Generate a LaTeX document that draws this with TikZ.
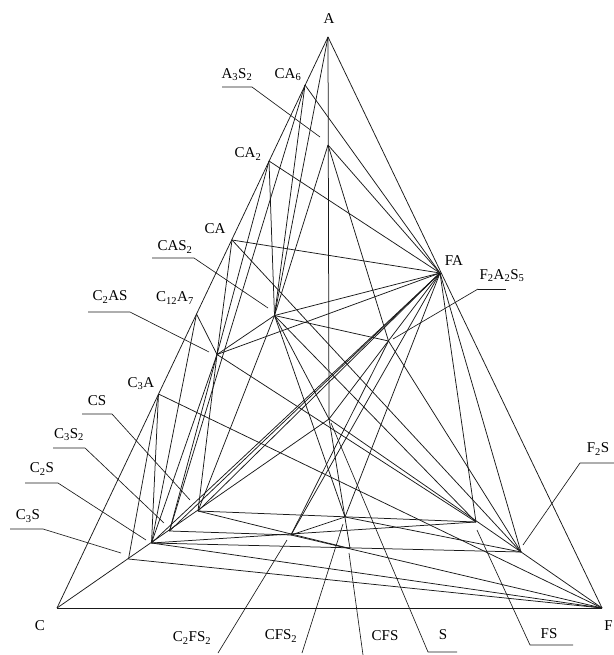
\documentclass[tikz,border=0pt]{standalone}
\usepackage{fontspec}
\setmainfont{Liberation Serif}
\begin{document}
\begin{tikzpicture}[x=1pt,y=-1pt,
  tie/.style={line width=0.75pt, black!90},
  lead/.style={line width=0.65pt, black!90},
  lbl/.style={font=\fontsize{15}{17}\selectfont, inner sep=0pt}]
\useasboundingbox (0,0) rectangle (613,655);
% vertices
\coordinate (A) at (328,37);
\coordinate (C) at (57,608);
\coordinate (F) at (602,608);
\coordinate (S) at (329,419);
\coordinate (CA6) at (305,85);
\coordinate (CA2) at (269,161);
\coordinate (CA) at (232,240);
\coordinate (C12A7) at (196.5,314);
\coordinate (C3A) at (158.5,394);
\coordinate (A3S2) at (328,145);
\coordinate (C2AS) at (217,354.5);
\coordinate (CAS2) at (274.5,315.5);
\coordinate (FA) at (440,273);
\coordinate (F2A2S5) at (388.5,341);
\coordinate (C3S) at (128.5,559);
\coordinate (C2S) at (151.5,543);
\coordinate (C3S2) at (169.5,531);
\coordinate (CS) at (198,511);
\coordinate (C2FS2) at (291,535);
\coordinate (CFS2) at (345,517);
\coordinate (CFS) at (350,548.5);
\coordinate (FS) at (476,522);
\coordinate (F2S) at (521,552);
% tie lines
\foreach \p/\q in {A/C, A/F, C/F, A/S, C/S, F/S,
  C3S/C3A, C2S/C3A, C2S/C12A7, C12A7/C2AS, C2S/C2AS, C3S2/C2AS, CS/C2AS,
  CS/CAS2, CAS2/S, C2AS/CA2, CA/C2AS, CA2/CAS2, CA6/CAS2, A/CAS2,
  CAS2/A3S2, C2AS/CAS2, CA6/C3S2,
  FA/CA6, FA/CA2, FA/CA, FA/A3S2, FA/CAS2, FA/C2AS, FA/CS, FA/C3S2, FA/C2S,
  FA/S, FA/F2S, FA/FS, FA/CFS2, FA/C2FS2,
  F2A2S5/CAS2, F2A2S5/A3S2, F2A2S5/F2S, F2A2S5/C2FS2,
  C3A/F, C3S/F, C2S/F, C2S/F2S, C2S/FS, CS/FS, CS/CFS, C3S2/C2FS2,
  C2FS2/CFS2, C2FS2/F, CFS2/F2S, S/CFS, CA/F2S, C2AS/FS, CAS2/CFS2, CAS2/FS}
  \draw[tie] (\p) -- (\q);
% plain labels
\node[lbl] (lA) at (329,19) {A};
\node[lbl] (lC) at (40,626) {C};
\node[lbl,anchor=east] (lF) at (613,626) {F};
\node[lbl] (lCA6) at (288,75) {CA\textsubscript{6}};
\node[lbl] (lCA2) at (248,154) {CA\textsubscript{2}};
\node[lbl] (lCA) at (215,229) {CA};
\node[lbl] (lC12A7) at (175,298) {C\textsubscript{12}A\textsubscript{7}};
\node[lbl] (lC3A) at (141,384) {C\textsubscript{3}A};
\node[lbl] (lFA) at (454,261) {FA};
% underlined labels with leaders
\node[lbl] (lA3S2) at (237,75) {A\textsubscript{3}S\textsubscript{2}};
\draw[lead] (222,87) -- (252,87) -- (320,137);
\node[lbl] (lCAS2) at (175,247) {CAS\textsubscript{2}};
\draw[lead] (152,258) -- (194,258) -- (268,308);
\node[lbl] (lC2AS) at (110,297) {C\textsubscript{2}AS};
\draw[lead] (88,312) -- (130,312) -- (209,352);
\node[lbl] (lF2A2S5) at (502,276) {F\textsubscript{2}A\textsubscript{2}S\textsubscript{5}};
\draw[lead] (478,289) -- (506,289);
\draw[lead] (478,289) -- (393,339);
\node[lbl] (lCS) at (97,401) {CS};
\draw[lead] (82,414) -- (112,414) -- (190,500);
\node[lbl] (lC3S2) at (69,435) {C\textsubscript{3}S\textsubscript{2}};
\draw[lead] (53,448) -- (85,448) -- (164,523);
\node[lbl] (lC2S) at (42,469) {C\textsubscript{2}S};
\draw[lead] (25,483) -- (58,483) -- (146,540);
\node[lbl] (lC3S) at (28,516) {C\textsubscript{3}S};
\draw[lead] (10,529) -- (43,529) -- (121,553);
\node[lbl] (lF2S) at (598,449) {F\textsubscript{2}S};
\draw[lead] (618,463) -- (580,463) -- (523,545);
\node[lbl] (lFS) at (549,634) {FS};
\draw[lead] (573,645) -- (530,645) -- (477,530);
\node[lbl] (lS) at (443,635) {S};
\draw[lead] (457,652) -- (428,652) -- (331,423);
\node[lbl] (lCFS) at (385,636) {CFS};
\draw[lead] (363,655) -- (349,553);
\node[lbl] (lCFS2) at (281,636) {CFS\textsubscript{2}};
\draw[lead] (302,653) -- (343,524);
\node[lbl] (lC2FS2) at (192,638) {C\textsubscript{2}FS\textsubscript{2}};
\draw[lead] (218,653) -- (287,540);
\end{tikzpicture}
\end{document}
